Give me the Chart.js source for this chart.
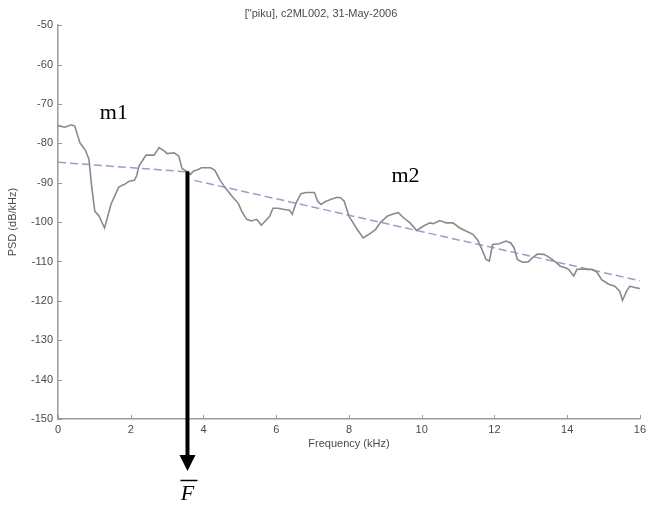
<!DOCTYPE html>
<html lang="en">
<head>
  <meta charset="UTF-8">
  <meta name="viewport" content="width=device-width, initial-scale=1.0">
  <title>PSD c2ML002</title>
  <script src="https://cdn.jsdelivr.net/npm/chart.js"></script>
  <style>
    html, body { margin: 0; padding: 0; background: #fff; overflow: hidden; }
    #wrap { position: relative; width: 650px; height: 505px; }
  </style>
</head>
<body>
  <div id="wrap">
    <canvas id="psdChart"></canvas>
  </div>

  <script>
    // spectrum (kHz, dB/kHz)
    const freq = [
      0.0, 0.19, 0.37, 0.46, 0.6, 0.76, 0.85, 0.92, 1.01, 1.13,
      1.28, 1.46, 1.67, 1.83, 1.96, 2.1, 2.16, 2.23, 2.42, 2.64,
      2.78, 2.92, 3.0, 3.19, 3.32, 3.41, 3.55, 3.64, 3.73, 3.82,
      3.94, 4.19, 4.31, 4.46, 4.6, 4.78, 4.96, 5.05, 5.19, 5.32,
      5.46, 5.52, 5.59, 5.7, 5.82, 5.91, 6.05, 6.23, 6.37, 6.44,
      6.55, 6.68, 6.82, 7.05, 7.14, 7.23, 7.37, 7.55, 7.68, 7.77,
      7.87, 8.0, 8.23, 8.39, 8.55, 8.73, 8.86, 9.05, 9.23, 9.36,
      9.5, 9.68, 9.86, 10.05, 10.23, 10.32, 10.5, 10.68, 10.86, 11.05,
      11.23, 11.41, 11.54, 11.66, 11.77, 11.86, 11.95, 12.13, 12.32, 12.45,
      12.54, 12.63, 12.77, 12.93, 13.04, 13.18, 13.36, 13.5, 13.68, 13.81,
      13.95, 14.04, 14.18, 14.27, 14.41, 14.54, 14.68, 14.81, 14.95, 15.13,
      15.31, 15.45, 15.52, 15.63, 15.72, 15.86, 16.0
    ];
    const psd = [
      -75.5, -75.9, -75.3, -75.6, -79.8, -81.9, -84.0, -90.4, -97.2, -98.5,
      -101.5, -95.4, -91.1, -90.4, -89.6, -89.4, -88.3, -85.7, -83.0, -83.0,
      -81.1, -81.9, -82.6, -82.4, -83.2, -86.4, -87.2, -87.9, -87.0, -86.8,
      -86.2, -86.2, -86.8, -89.4, -91.3, -93.4, -95.3, -97.2, -99.3, -99.7,
      -99.3, -99.9, -100.8, -99.7, -98.5, -96.5, -96.5, -96.8, -97.0, -98.0,
      -95.1, -92.8, -92.5, -92.5, -94.7, -95.5, -94.7, -94.1, -93.7, -93.8,
      -94.7, -98.5, -101.9, -104.0, -103.1, -101.9, -100.2, -98.5, -97.9, -97.6,
      -98.9, -100.2, -102.1, -101.0, -100.2, -100.4, -99.6, -100.2, -100.2, -101.5,
      -102.3, -103.1, -104.6, -107.0, -109.5, -109.9, -105.7, -105.5, -104.8, -105.3,
      -106.5, -109.5, -110.2, -110.1, -109.1, -108.1, -108.2, -108.9, -110.1, -111.2,
      -111.6, -112.0, -113.7, -112.0, -111.9, -112.0, -112.0, -112.6, -114.6, -115.7,
      -116.3, -117.6, -119.9, -117.6, -116.3, -116.6, -116.9
    ];

    // fitted slopes below and above the mean frequency
    const m1Freq = [0, 3.5];
    const m1Psd = [-84.8, -87.2];
    const m2Freq = [3.75, 16];
    const m2Psd = [-89.4, -114.9];

    // mean frequency marker
    const fBar = 3.56;
    const fBarPsd = -87.1;

    const xMin = 0, xMax = 16, xStep = 2;
    const yMin = -150, yMax = -50, yStep = 10;

    const toPoints = (xs, ys) => xs.map((v, i) => ({ x: v, y: ys[i] }));

    const axisGray = '#9a9a9a';
    const textGray = '#4a4a4a';
    const sans = '"Liberation Sans", Arial, sans-serif';
    const serif = '"Liberation Serif", "Times New Roman", serif';

    // MATLAB style inward ticks, the F-bar arrow and the slope labels
    const decorations = {
      id: 'decorations',
      afterDraw(chart) {
        const { ctx, chartArea, scales: { x, y } } = chart;
        ctx.save();

        ctx.strokeStyle = axisGray;
        ctx.lineWidth = 1;
        x.ticks.forEach(t => {
          const px = Math.round(x.getPixelForValue(t.value)) + 0.5;
          ctx.beginPath();
          ctx.moveTo(px, chartArea.bottom);
          ctx.lineTo(px, chartArea.bottom - 4);
          ctx.stroke();
        });
        y.ticks.forEach(t => {
          const py = Math.round(y.getPixelForValue(t.value)) + 0.5;
          ctx.beginPath();
          ctx.moveTo(chartArea.left, py);
          ctx.lineTo(chartArea.left + 4, py);
          ctx.stroke();
        });

        // arrow from the curve down past the frequency axis
        const ax = x.getPixelForValue(fBar);
        const ay = y.getPixelForValue(fBarPsd);
        const tipY = chartArea.bottom + 52;
        ctx.fillStyle = '#000';
        ctx.fillRect(ax - 2, ay, 4, tipY - 15 - ay);
        ctx.beginPath();
        ctx.moveTo(ax - 8, tipY - 16);
        ctx.lineTo(ax + 8, tipY - 16);
        ctx.lineTo(ax, tipY);
        ctx.closePath();
        ctx.fill();

        ctx.font = 'italic 22px ' + serif;
        ctx.textAlign = 'center';
        ctx.textBaseline = 'alphabetic';
        ctx.fillText('F', ax, tipY + 29);
        ctx.strokeStyle = '#000';
        ctx.lineWidth = 1.5;
        ctx.beginPath();
        ctx.moveTo(ax - 7, tipY + 9.5);
        ctx.lineTo(ax + 10, tipY + 9.5);
        ctx.stroke();

        ctx.font = '22px ' + serif;
        ctx.textAlign = 'left';
        ctx.fillText('m1', x.getPixelForValue(1.15), y.getPixelForValue(-73.7));
        ctx.fillText('m2', x.getPixelForValue(9.17), y.getPixelForValue(-89.7));

        ctx.restore();
      }
    };

    const ctx = document.getElementById('psdChart').getContext('2d');

    const config = {
      type: 'line',
      data: {
        datasets: [
          {
            label: 'PSD',
            data: toPoints(freq, psd),
            borderColor: '#8a8a8a',
            borderWidth: 1.6,
            pointRadius: 0,
            fill: false,
            tension: 0
          },
          {
            label: 'm1',
            data: toPoints(m1Freq, m1Psd),
            borderColor: '#9c9cc8',
            borderWidth: 1.5,
            borderDash: [8, 4],
            pointRadius: 0,
            fill: false
          },
          {
            label: 'm2',
            data: toPoints(m2Freq, m2Psd),
            borderColor: '#9c9cc8',
            borderWidth: 1.5,
            borderDash: [8, 4],
            pointRadius: 0,
            fill: false
          }
        ]
      },
      options: {
        responsive: true,
        maintainAspectRatio: false,
        animation: false,
        layout: { padding: { left: 0, right: 8, top: 0, bottom: 54 } },
        plugins: {
          legend: { display: false },
          tooltip: { enabled: false },
          title: {
            display: true,
            text: '["piku], c2ML002, 31-May-2006',
            color: textGray,
            font: { family: sans, size: 11, weight: 'normal' },
            padding: { top: 7, bottom: 5 }
          }
        },
        scales: {
          x: {
            type: 'linear',
            min: xMin,
            max: xMax,
            grid: { display: false, drawTicks: false },
            border: { display: true, color: axisGray, width: 1.5 },
            ticks: {
              stepSize: xStep,
              color: textGray,
              padding: 4,
              maxRotation: 0,
              font: { family: sans, size: 11 }
            },
            title: {
              display: true,
              text: 'Frequency (kHz)',
              color: textGray,
              font: { family: sans, size: 11 },
              padding: { top: 0, bottom: 0 }
            },
            afterFit(scale) { scale.height = 32; }
          },
          y: {
            type: 'linear',
            min: yMin,
            max: yMax,
            grid: { display: false, drawTicks: false },
            border: { display: true, color: axisGray, width: 1.5 },
            ticks: {
              stepSize: yStep,
              color: textGray,
              padding: 5,
              font: { family: sans, size: 11 }
            },
            title: {
              display: true,
              text: 'PSD (dB/kHz)',
              color: textGray,
              font: { family: sans, size: 11 },
              padding: { top: 6, bottom: 0 }
            },
            afterFit(scale) { scale.width = 58; }
          }
        }
      },
      plugins: [decorations]
    };

    const chart = new Chart(ctx, config);
  </script>
</body>
</html>
